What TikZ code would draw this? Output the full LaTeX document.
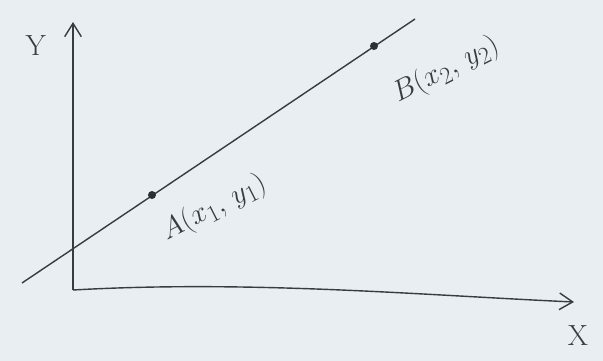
\documentclass[tikz,border=0pt]{standalone}
\usepackage{amsmath}
\usetikzlibrary{arrows.meta,positioning}
\definecolor{paper}{HTML}{E8EEF2}
\definecolor{ink}{HTML}{383C40}
\begin{document}
\begin{tikzpicture}[x=0.03cm,y=-0.03cm,every node/.style={font=\fontsize{29}{34}\selectfont,text=ink},
 axis/.style={draw=ink,line width=1.2pt,-{Straight Barb[length=4mm,width=5mm]}},
 dot/.style={circle,fill=ink!80!black,inner sep=0pt,minimum size=2.4mm},
 lbl/.style={rotate=27,inner sep=0pt}]
\fill[paper] (0,0) rectangle (603,361);
\useasboundingbox (0,0) rectangle (603,361);
\coordinate (O) at (73,290);
\coordinate (ytip) at (73,22);
\coordinate (xtip) at (574,302);
\coordinate (l0) at (22,283);
\coordinate (l1) at (415,19);
\draw[axis] (O) -- (ytip);
\draw[axis] (O) .. controls (250,280) and (420,295) .. (xtip);
\draw[ink,line width=1.2pt] (l0) -- (l1);
\node[dot] (a) at (152,195) {};
\node[dot] (b) at (374,46) {};
\node[lbl] (alab) at (214,208) {$A(x_1,\,y_1)$};
\node[lbl] (blab) at (446,70) {$B(x_2,\,y_2)$};
\node (ylab) at (36,46) {$\mathrm{Y}$};
\node (xlab) at (578,336) {$\mathrm{X}$};
\end{tikzpicture}
\end{document}
